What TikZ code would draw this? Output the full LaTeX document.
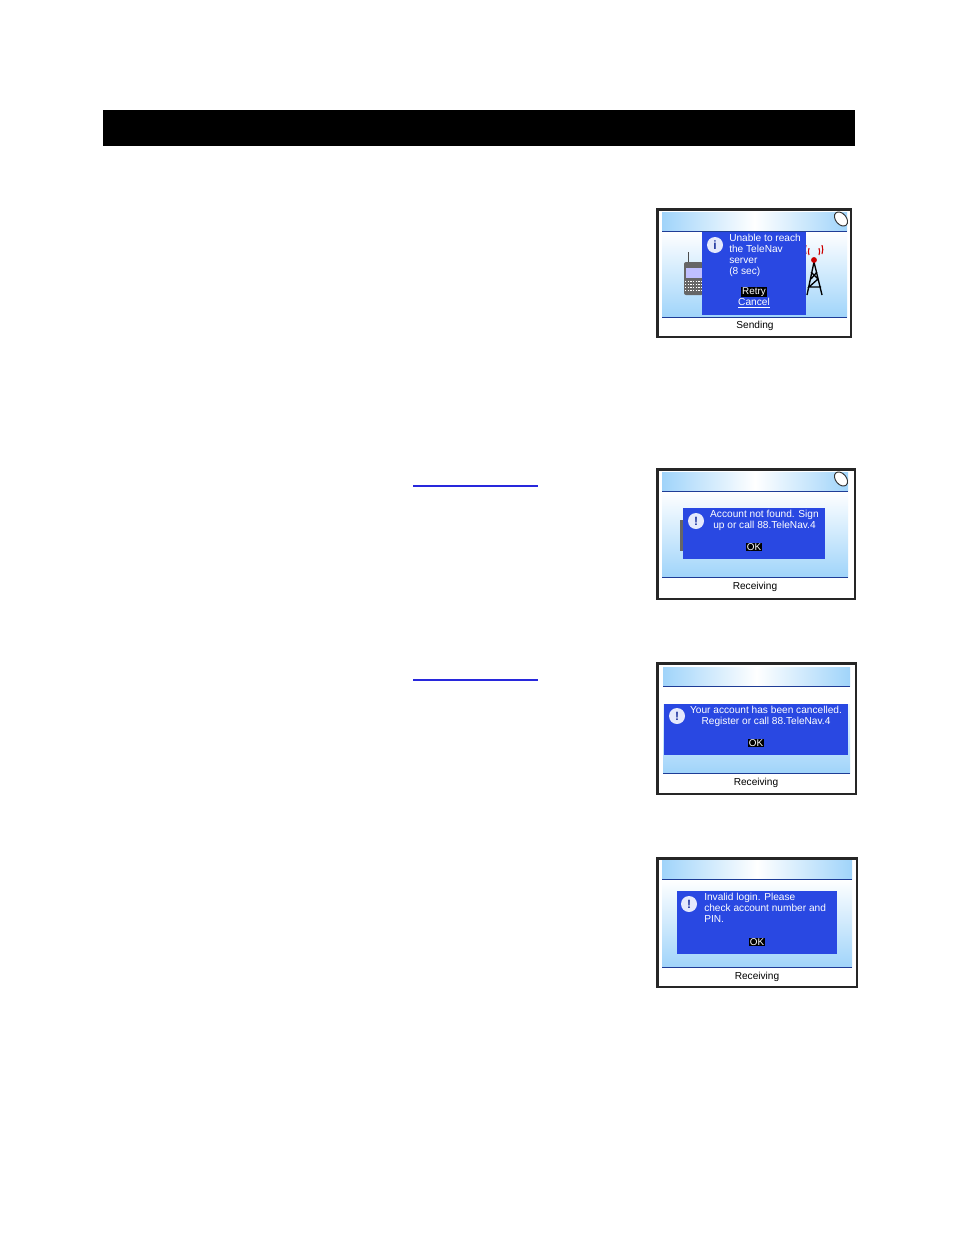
\documentclass[tikz,border=0pt]{standalone}
\usepackage{fontspec}
\setmainfont{Liberation Sans}
\usetikzlibrary{shapes.geometric}
\definecolor{dialogblue}{RGB}{41,72,226}
\definecolor{skyblue}{RGB}{160,212,250}
\definecolor{rulenavy}{RGB}{30,60,150}
\definecolor{linkblue}{RGB}{40,40,220}
\tikzset{
  frame/.style={draw=black!85,line width=2.2pt,fill=white},
  header/.style={left color=skyblue,right color=skyblue,middle color=white},
  body/.style={top color=white,bottom color=skyblue},
  dialog/.style={fill=dialogblue},
  msg/.style={text=white,font=\fontsize{7.6}{8.1}\selectfont,inner sep=0pt,align=left},
  status/.style={text=black,font=\fontsize{7.6}{8}\selectfont,inner sep=0pt},
  softkey/.style={fill=black,text=white,font=\fontsize{7.4}{8}\selectfont,inner sep=0.7pt},
  infoicon/.style={circle,inner sep=0pt,minimum size=12pt,fill=white!88!dialogblue,
    text=dialogblue!70!black,font=\bfseries\fontsize{9}{9}\selectfont},
  mouseball/.style={draw=black!80,fill=white,line width=0.7pt,ellipse,rotate=-50,
    minimum width=12pt,minimum height=8pt,inner sep=0pt}
}
\begin{document}
\begin{tikzpicture}[x=0.75pt,y=-0.75pt]
    \useasboundingbox (0,0) rectangle (954,1235);
    \fill[black] (103,110) rectangle (855,146);

    % links
    \foreach \y in {486,680}
    \draw[linkblue,line width=0.8pt] (413,\y) -- (538,\y);

    % screens: outer corners, inner left and right, header top and bottom, footer top
    \foreach \xa/\ya/\xb/\yb/\xl/\xr/\ytop/\ymid/\yfoot in {
        657.5/209.5/851/337/662/847/212/231/317,
        657.5/469.5/855/599/662/848/472/491/577,
        657.5/663.5/856/794/663/850/667/686/773,
        657.5/858.5/857/987/662/852/860/879/967}{
      \draw[frame] (\xa,\ya) rectangle (\xb,\yb);
      \shade[header] (\xl,\ytop) rectangle (\xr,\ymid);
      \shade[body] (\xl,\ymid) rectangle (\xr,\yfoot);
      \draw[rulenavy,line width=0.6pt] (\xl,\ymid) -- (\xr,\ymid);
      \draw[rulenavy,line width=0.6pt] (\xl,\yfoot) -- (\xr,\yfoot);
    }

    % first screen
    \fill[black!70] (688,252) rectangle (689,262);
    \fill[black!60,rounded corners=1.5pt] (684,262) rectangle (703,295);
    \fill[white!75!blue] (686,268) rectangle (703,278);
    \foreach \y in {281,284,287,290}
    \draw[white,line width=0.4pt,dash pattern=on 1pt off 1pt] (685,\y) -- (703,\y);
    \draw[black,line width=1pt] (814,262) -- (807,295) (814,262) -- (822,295)
      (811,272) -- (818,279) -- (809,287) -- (821,287) (817,272) -- (811,279);
    \fill[red!80!black] (814,260) circle (2.2pt);
    \draw[red!80!black,line width=0.8pt] (809,255) arc (160:200:10) (819,255) arc (20:-20:10)
      (806,254) arc (160:200:13) (822,254) arc (20:-20:13);
    \fill[dialog] (702,232) rectangle (806,315);
    \node[infoicon] (iconA) at (715,245) {i};
    \node[msg,anchor=north west] (msgA) at (729,234) {Unable to reach\\the TeleNav\\server\\(8 sec)};
    \node[softkey] (retry) at (754,292) {Retry};
    \node[msg] (cancel) at (754,303) {\underline{Cancel}};
    \node[status] (sending) at (755,326) {Sending};
    \node[mouseball] (ballA) at (841,219) {};

    % second screen
    \fill[black!60] (680,520) rectangle (684,551);
    \fill[dialog] (683,508) rectangle (825,559);
    \node[infoicon] (iconB) at (696,521) {!};
    \node[msg,anchor=north,align=center] (msgB) at (764.5,510) {Account not found. Sign\\up or call 88.TeleNav.4};
    \node[softkey] (okB) at (754,547) {OK};
    \node[status] (recvB) at (755,587) {Receiving};
    \node[mouseball] (ballB) at (841,479) {};

    % third screen
    \fill[white] (663,687) rectangle (850,704);
    \fill[dialog] (664,704) rectangle (848,755);
    \node[infoicon] (iconC) at (677,716) {!};
    \node[msg,anchor=north,align=center] (msgC) at (766,706) {Your account has been cancelled.\\Register or call 88.TeleNav.4};
    \node[softkey] (okC) at (756,743) {OK};
    \node[status] (recvC) at (756,783) {Receiving};

    % fourth screen
    \fill[dialog] (677,891) rectangle (837,954);
    \node[infoicon] (iconD) at (689,904) {!};
    \node[msg,anchor=north west] (msgD) at (704,893) {Invalid login. Please\\check account number and\\PIN.};
    \node[softkey] (okD) at (757,942) {OK};
    \node[status] (recvD) at (757,977) {Receiving};
  \end{tikzpicture}
\end{document}
